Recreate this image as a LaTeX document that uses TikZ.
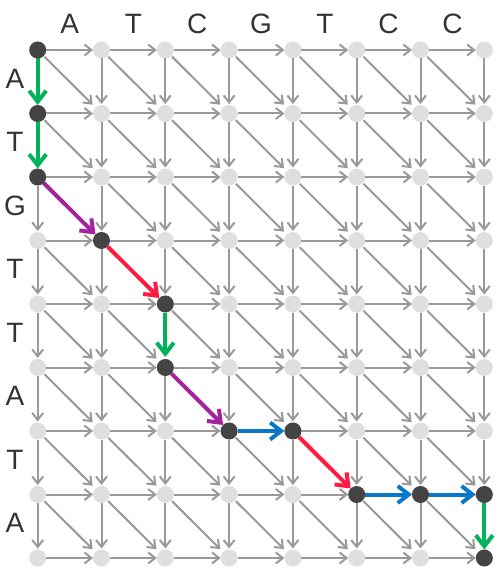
\documentclass[tikz,border=0pt]{standalone}
\usepackage{fontspec}
\setmainfont{Liberation Sans}
\usetikzlibrary{arrows.meta}
\definecolor{gedge}{HTML}{999999}
\definecolor{lnodec}{HTML}{DFDFDF}
\definecolor{dnodec}{HTML}{444444}
\definecolor{txtc}{HTML}{333333}
\definecolor{cgreen}{HTML}{00B35A}
\definecolor{cpurple}{HTML}{A3239E}
\definecolor{cred}{HTML}{FF1A40}
\definecolor{cblue}{HTML}{0A78C8}
\tikzset{
  lnode/.style={circle,fill=lnodec,minimum size=17pt,inner sep=0pt,outer sep=0pt},
  garrow/.style={draw=gedge,line width=2pt,-{Straight Barb[length=7pt,width=11pt,line width=2pt]}},
  carrow/.style={line width=4pt,-{Straight Barb[length=11pt,width=17pt,line width=4pt]}},
  lbl/.style={text=txtc,font=\fontsize{28}{28}\selectfont,inner sep=0pt}
}
\begin{document}
\begin{tikzpicture}[x=1pt,y=-1pt]
\useasboundingbox (0,0) rectangle (501,572);
% nodes
\foreach \i in {0,...,7}{
  \foreach \j in {0,...,8}{
    \node[lnode] (n\i-\j) at ({37.7+63.8*\i},{50+63.5*\j}) {};
  }
}
% path edges to skip
\foreach \p in {0-0,0-1,2-4,7-7}{\expandafter\gdef\csname skipD-\p\endcsname{}}
\foreach \p in {0-2,1-3,2-5,4-6}{\expandafter\gdef\csname skipX-\p\endcsname{}}
\foreach \p in {3-6,5-7,6-7}{\expandafter\gdef\csname skipR-\p\endcsname{}}
% gray edges
\foreach \i in {0,...,7}{
  \foreach \j in {0,...,8}{
    \pgfmathtruncatemacro\ii{\i+1}
    \pgfmathtruncatemacro\jj{\j+1}
    \ifnum\i<7
      \ifcsname skipR-\i-\j\endcsname\else
        \draw[garrow] (n\i-\j) -- (n\ii-\j);
      \fi
    \fi
    \ifnum\j<8
      \ifcsname skipD-\i-\j\endcsname\else
        \draw[garrow,shorten >=1pt] (n\i-\j) -- (n\i-\jj);
      \fi
      \ifnum\i<7
        \ifcsname skipX-\i-\j\endcsname\else
          \draw[garrow,shorten >=4pt,shorten <=1pt] (n\i-\j) -- (n\ii-\jj);
        \fi
      \fi
    \fi
  }
}
% colored path
\draw[carrow,cgreen] (n0-0) -- (n0-1);
\draw[carrow,cgreen] (n0-1) -- (n0-2);
\draw[carrow,cpurple] (n0-2) -- (n1-3);
\draw[carrow,cred] (n1-3) -- (n2-4);
\draw[carrow,cgreen,shorten >=2pt] (n2-4) -- (n2-5);
\draw[carrow,cpurple] (n2-5) -- (n3-6);
\draw[carrow,cblue] (n3-6) -- (n4-6);
\draw[carrow,cred] (n4-6) -- (n5-7);
\draw[carrow,cblue] (n5-7) -- (n6-7);
\draw[carrow,cblue] (n6-7) -- (n7-7);
\draw[carrow,cgreen] (n7-7) -- (n7-8);
% dark nodes
\foreach \p in {0-0,0-1,0-2,1-3,2-4,2-5,3-6,4-6,5-7,6-7,7-7,7-8}{
  \fill[dnodec] (n\p) circle (8.5pt);
}
% labels
\foreach \t [count=\k from 0] in {A,T,C,G,T,C,C}{
  \node[lbl] (top\k) at ({37.7+63.8*\k+31.9},24) {\t};
}
\foreach \t [count=\k from 0] in {A,T,G,T,T,A,T,A}{
  \node[lbl] (left\k) at (15,{50+63.5*\k+31.75-3}) {\t};
}
\end{tikzpicture}
\end{document}
